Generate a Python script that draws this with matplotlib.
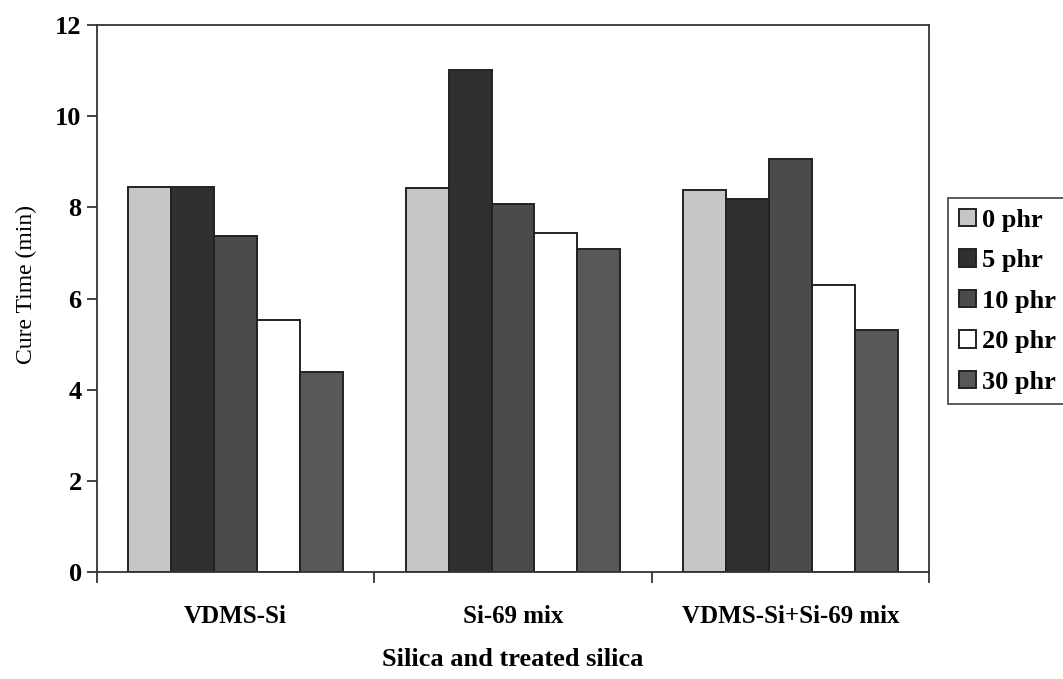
import matplotlib
matplotlib.use("Agg")
import matplotlib.pyplot as plt
import numpy as np

categories = ["VDMS-Si", "Si-69 mix", "VDMS-Si+Si-69 mix"]
series_labels = ["0 phr", "5 phr", "10 phr", "20 phr", "30 phr"]
values_0phr = [8.45, 8.43, 8.39]
values_5phr = [8.45, 11.01, 8.19]
values_10phr = [7.38, 8.07, 9.05]
values_20phr = [5.52, 7.44, 6.29]
values_30phr = [4.38, 7.09, 5.31]
y_ticks = [0, 2, 4, 6, 8, 10, 12]

series = [values_0phr, values_5phr, values_10phr, values_20phr, values_30phr]
colors = ["#c6c6c6", "#303030", "#4b4b4b", "#ffffff", "#585858"]

plt.rcParams['font.family'] = ['Liberation Serif', 'DejaVu Serif']

fig = plt.figure(figsize=(10.63, 6.79), dpi=100)
ax = fig.add_axes([97/1063, 1 - 572/679, (929-97)/1063, (572-25)/679])

x = np.arange(len(categories))
w = 0.155
for i, (vals, lab, c) in enumerate(zip(series, series_labels, colors)):
    ax.bar(x + (i - 2) * w, vals, width=w, color=c, edgecolor="#222222",
           linewidth=1.4, label=lab)

ax.set_xlim(-0.5, 2.5)
ax.set_ylim(0, 12)
ax.set_yticks(y_ticks)
ax.set_yticklabels([str(t) for t in y_ticks], fontsize=19, fontweight="bold")
ax.set_xticks([-0.5, 0.5, 1.5, 2.5])
ax.set_xticklabels([])
ax.set_xticks(x, minor=True)
ax.set_xticklabels(categories, minor=True, fontsize=18, fontweight="bold")
ax.tick_params(axis="x", which="major", direction="out", length=8, width=1.3, color="#333333")
ax.tick_params(axis="x", which="minor", length=0, pad=24)
ax.tick_params(axis="y", direction="out", length=7, width=1.3, pad=4, color="#333333")
for s in ax.spines.values():
    s.set_linewidth(1.3)
    s.set_color("#333333")

ax.set_ylabel("Cure Time (min)", fontsize=17)
ax.yaxis.set_label_coords(-0.072, 0.525)
ax.set_xlabel("Silica and treated silica", fontsize=19, fontweight="bold", labelpad=14)

leg = ax.legend(loc="upper left", bbox_to_anchor=(948/1063, 1 - 198/679),
                bbox_transform=fig.transFigure, frameon=True, fancybox=False,
                edgecolor="#222222", prop={"size": 19, "weight": "bold"},
                handlelength=0.65, handleheight=0.65, handletextpad=0.25,
                labelspacing=0.66, borderpad=0.4, borderaxespad=0)
leg.get_frame().set_linewidth(1.3)

fig.savefig("out.png", dpi=100)
